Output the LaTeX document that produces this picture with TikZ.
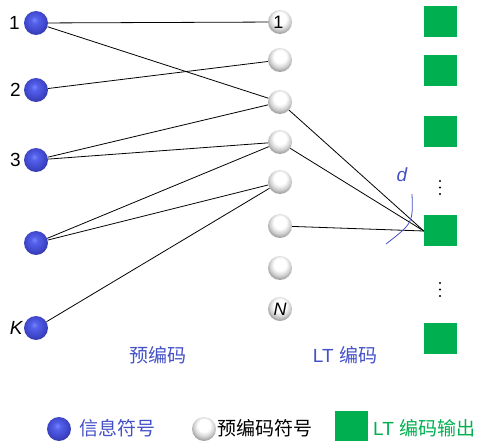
\documentclass[tikz,border=0pt]{standalone}
\usepackage{fontspec}
\setmainfont{Liberation Sans}
\newfontfamily\cjk{Noto Sans CJK SC}
\definecolor{bhi}{RGB}{120,132,252}
\definecolor{bmid}{RGB}{84,96,234}
\definecolor{bedge}{RGB}{64,72,205}
\definecolor{bdark}{RGB}{48,52,160}
\definecolor{wmid}{RGB}{212,212,212}
\definecolor{wedge}{RGB}{160,160,160}
\definecolor{wdark}{RGB}{120,120,120}
\definecolor{txtblue}{RGB}{68,80,200}
\definecolor{outgreen}{RGB}{0,176,80}
\pgfdeclareradialshading{wballsh}{\pgfpoint{0bp}{10bp}}{color(0bp)=(white); color(13bp)=(white); color(21bp)=(wmid); color(28bp)=(wedge); color(34bp)=(wdark); color(50bp)=(wdark)}
\pgfdeclareradialshading{bballsh}{\pgfpoint{-4bp}{7bp}}{color(0bp)=(bhi); color(7bp)=(bmid); color(20bp)=(bedge); color(31bp)=(bdark); color(50bp)=(bdark)}
\begin{document}
\begin{tikzpicture}[x=1pt,y=-1pt,
  bball/.style={circle,inner sep=0pt,minimum size=24pt,shade,shading=bballsh},
  wball/.style={circle,inner sep=0pt,minimum size=24pt,shade,shading=wballsh,font=\fontsize{18}{18}\selectfont},
  gsq/.style={fill=outgreen,minimum width=33pt,minimum height=31pt,inner sep=0pt},
  conn/.style={line width=0.8pt,black},
  lbl/.style={font=\fontsize{19}{19}\selectfont,inner sep=0pt},
  dotmark/.style={fill=black}]
\useasboundingbox (0,0) rectangle (480,441);

% information symbols
\node[bball] (b1) at (36,23) {};
\node[bball] (b2) at (36,90) {};
\node[bball] (b3) at (36,160) {};
\node[bball] (b4) at (36,243) {};
\node[bball] (bK) at (36,328) {};
\node[lbl,anchor=east] (l1) at ([xshift=-4pt]b1.west) {1};
\node[lbl,anchor=east] (l2) at ([xshift=-3pt]b2.west) {2};
\node[lbl,anchor=east] (l3) at ([xshift=-3pt]b3.west) {3};
\node[lbl,anchor=east] (lK) at ([xshift=-1pt]bK.west) {\itshape K};

% pre-coded symbols
\node[wball] (w1) at (280,22) {\hspace*{-3pt}1};
\node[wball] (w2) at (280,60) {};
\node[wball] (w3) at (280,102) {};
\node[wball] (w4) at (280,142) {};
\node[wball] (w5) at (280,182) {};
\node[wball] (w6) at (280,226) {};
\node[wball] (w7) at (280,268) {};
\node[wball] (wN) at (280,309) {\itshape N};

% LT outputs
\node[gsq] (g1) at (440.5,21.5) {};
\node[gsq] (g2) at (440.5,70.5) {};
\node[gsq] (g3) at (440.5,131.5) {};
\node[gsq] (g4) at (440.5,231) {};
\node[gsq] (g5) at (440.5,338.5) {};

% connectors
\draw[conn] (b1) -- (w1);
\draw[conn] (b1) -- (w3);
\draw[conn] (b2) -- (w2);
\draw[conn] (b3) -- (w3);
\draw[conn] (b3) -- (w4);
\draw[conn] (b4) -- (w4);
\draw[conn] (b4) -- (w5);
\draw[conn] (bK) -- (w5);
\draw[conn] (w3) -- (g4.west);
\draw[conn] (w4) -- (g4.west);
\draw[conn] (w6) -- (g4.west);

% degree arc
\coordinate (arcS) at (386,244);
\coordinate (arcE) at (412,194);
\draw[txtblue,line width=0.8pt] (arcS) .. controls (413,223) .. (arcE);
\node[lbl,text=txtblue] (dl) at (402,175) {\itshape d};

% vertical dots
\foreach \yy in {181,187.5,194} \fill[dotmark] (440,\yy) circle[radius=1.2pt];
\foreach \yy in {283,289.5,296} \fill[dotmark] (440,\yy) circle[radius=1.2pt];

% column labels
\node[lbl,text=txtblue] (pl) at (158,355) {\cjk 预编码};
\node[lbl,text=txtblue] (ll) at (345,355) {LT {\cjk 编码}};

% legend
\node[bball] (kb) at (59,429) {};
\node[lbl,text=txtblue,anchor=west] (kbt) at (79,428) {\cjk 信息符号};
\node[wball] (kw) at (204,429) {};
\node[lbl,anchor=west] (kwt) at (217,428) {\cjk 预编码符号};
\node[gsq,minimum height=30pt] (kg) at (351,426) {};
\node[lbl,text=outgreen,anchor=west] (kgt) at (373,428) {LT {\cjk 编码输出}};
\end{tikzpicture}
\end{document}
